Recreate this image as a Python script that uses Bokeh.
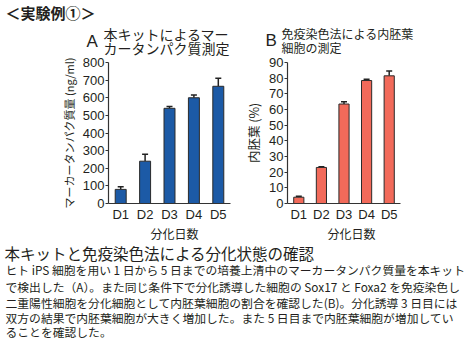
from bokeh.plotting import figure
from bokeh.layouts import column, row
from bokeh.models import Range1d, FactorRange, ColumnDataSource, Whisker, TeeHead
from bokeh.core.properties import value
from bokeh.embed import file_html
from bokeh.resources import INLINE

# ---- data ----
days = ["D1", "D2", "D3", "D4", "D5"]
marker_protein = [80, 240, 540, 600, 665]          # ng/ml
marker_protein_err = [15, 40, 10, 15, 45]
endoderm_pct = [4, 23, 63.5, 78.5, 81.5]            # %
endoderm_pct_err = [0.6, 0.4, 1.5, 0.8, 3.0]
y_ticks_a = [0, 100, 200, 300, 400, 500, 600, 700, 800]
y_ticks_b = [0, 10, 20, 30, 40, 50, 60, 70, 80, 90]

header = "＜実験例①＞"
title_a = ["本キットによるマー", "カータンパク質測定"]
title_b = ["免疫染色法による内胚葉", "細胞の測定"]
ylabel_a = "マーカータンパク質量 (ng/ml)"
ylabel_b = "内胚葉 (%)"
xlabel = "分化日数"
heading = "本キットと免疫染色法による分化状態の確認"
body = [
    "ヒト iPS 細胞を用い 1 日から 5 日までの培養上清中のマーカータンパク質量を本キット",
    "で検出した（A）。また同じ条件下で分化誘導した細胞の Sox17 と Foxa2 を免疫染色し",
    "二重陽性細胞を分化細胞として内胚葉細胞の割合を確認した(B)。分化誘導 3 日目には",
    "双方の結果で内胚葉細胞が大きく増加した。また 5 日目まで内胚葉細胞が増加してい",
    "ることを確認した。",
]

JP = "Noto Sans CJK JP"
NUM = "Liberation Sans"
TXT = "#231f20"
AX = "#333333"


def blank(w, h):
    f = figure(width=w, height=h, x_range=Range1d(0, w), y_range=Range1d(h, 0),
               output_backend="svg", toolbar_location=None,
               min_border=0, min_border_left=0, min_border_right=0,
               min_border_top=0, min_border_bottom=0)
    f.axis.visible = False
    f.grid.visible = False
    f.outline_line_color = None
    f.background_fill_color = None
    f.border_fill_color = "white"
    return f


# ---- top strip with header and panel titles ----
TOP_H = 56
top = blank(475, TOP_H)
top.text(x=[5], y=[12], text=[header], text_font=value(JP), text_font_size="15px",
         text_font_style="bold", text_color=TXT, text_baseline="middle")
top.text(x=[86, 265], y=[41, 40], text=["A", "B"], text_font=value(NUM),
         text_font_size="17px", text_color=TXT, text_baseline="middle")
top.text(x=[103, 103], y=[33, 47], text=title_a, text_font=value(JP),
         text_font_size="14px", text_color=TXT, text_baseline="middle")
top.text(x=[281, 281], y=[33, 47], text=title_b, text_font=value(JP),
         text_font_size="12px", text_color=TXT, text_baseline="middle")


def bar_chart(w, h, vals, errs, ymax, ticks, ylabel, ylabel_size, color,
              bl, br, bt, bb):
    src = ColumnDataSource(dict(x=days, top=vals,
                                up=[v + e for v, e in zip(vals, errs)]))
    p = figure(width=w, height=h, x_range=FactorRange(*days, range_padding=0),
               y_range=Range1d(0, ymax), output_backend="svg",
               toolbar_location=None,
               min_border_left=bl, min_border_right=br,
               min_border_top=bt, min_border_bottom=bb)
    p.vbar(x="x", top="top", width=0.45, source=src, fill_color=color,
           line_color="#2b2b2b", line_width=1)
    wk = Whisker(base="x", lower="top", upper="up", source=src,
                 line_color="#222222", line_width=1.5,
                 upper_head=TeeHead(size=6, line_color="#222222", line_width=1.5),
                 lower_head=None)
    p.add_layout(wk)
    p.grid.visible = False
    p.outline_line_color = None
    p.background_fill_color = None
    p.yaxis.ticker = ticks
    p.yaxis.minor_tick_line_color = None
    p.yaxis.major_tick_out = 3
    p.yaxis.major_tick_in = 0
    p.yaxis.major_label_standoff = 1
    p.yaxis.axis_label = ylabel
    p.yaxis.axis_label_standoff = 3
    p.yaxis.major_tick_line_color = AX
    p.yaxis.axis_label_text_font_size = ylabel_size
    p.yaxis.axis_label_text_font = JP
    p.yaxis.axis_label_text_font_style = "normal"
    p.yaxis.axis_label_text_color = TXT
    p.xaxis.major_tick_line_color = None
    p.xaxis.major_tick_out = 0
    p.xaxis.major_tick_in = 0
    p.xaxis.minor_tick_out = 0
    p.xaxis.major_label_standoff = 3
    for ax in (p.xaxis, p.yaxis):
        ax.axis_line_color = AX
        ax.axis_line_width = 1.2
        ax.major_label_text_font = NUM
        ax.major_label_text_font_size = "13px"
        ax.major_label_text_color = TXT
    return p


ROW_H = 168
pa = bar_chart(237, ROW_H, marker_protein, marker_protein_err, 800, y_ticks_a,
               ylabel_a, "11px", "#1c5aa6", 108, 7, 6, 17)
pb = bar_chart(238, ROW_H, endoderm_pct, endoderm_pct_err, 90, y_ticks_b,
               ylabel_b, "12.5px", "#f26a5a", 50, 75, 4, 16)

# ---- bottom block: x-axis titles of both panels, heading and body ----
BOT_H = 338 - TOP_H - ROW_H
bot = blank(475, BOT_H)
bot.text(x=[174, 351], y=[9, 9], text=[xlabel, xlabel], text_font=value(JP),
         text_font_size="12px", text_color=TXT, text_align="center",
         text_baseline="middle")
bot.text(x=[4], y=[28], text=[heading], text_font=value(JP), text_font_size="15.5px",
         text_color=TXT, text_baseline="middle")
bot.text(x=[5] * len(body), y=[45, 61.5, 77.5, 93, 106.5], text=body,
         text_font=value(JP), text_font_size="11.8px", text_color=TXT,
         text_baseline="middle")

layout = column(top, row(pa, pb, spacing=0), bot, spacing=0)
open("out.html", "w").write(file_html(layout, INLINE))
